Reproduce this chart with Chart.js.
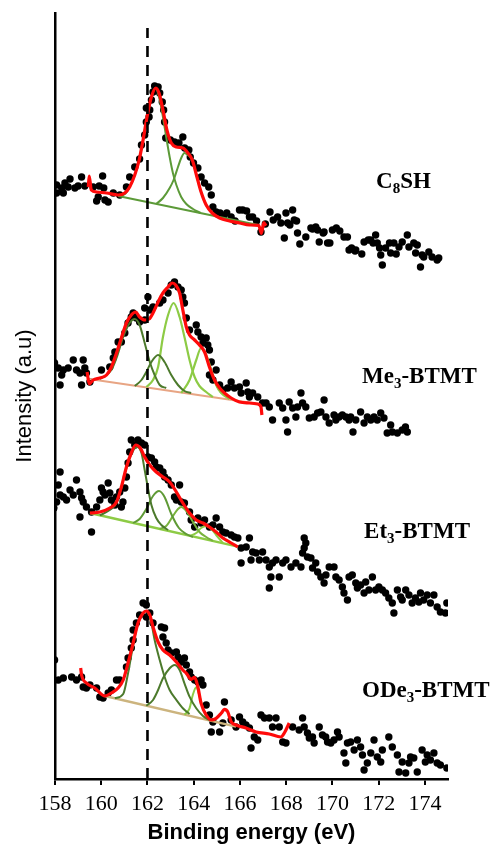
<!DOCTYPE html>
<html><head><meta charset="utf-8">
<script src="https://cdn.jsdelivr.net/npm/chart.js@4.4.1/dist/chart.umd.min.js"></script>
<style>html,body{margin:0;padding:0;background:#fff}#wrap{width:496px;height:846px}</style>
</head><body><div id="wrap"><canvas id="c" width="496" height="846"></canvas></div>
<script>
// ---------- axis ----------
const xTickValues = [158,160,162,164,166,168,170,172,174];
const xRange = [158,175];
const yRange = [0,766];
const refLine = [[162,0],[162,751]];

// ---------- C8SH ----------
const c8shDots = [[158.07,594],[158.07,586],[158.29,591],[158.36,586],[158.43,596],[158.57,592],[158.65,600],[158.86,591],[159.00,593],[159.15,602],[159.29,593],[159.65,592],[159.80,578],[159.87,582],[159.91,593],[160.06,603],[160.11,591],[160.16,579],[160.30,577],[160.52,586],[160.80,584],[161.09,592],[161.23,602],[161.45,612],[161.66,620],[161.74,634],[161.88,644],[161.95,657],[161.95,671],[162.07,662],[162.10,669],[162.17,679],[162.24,687],[162.31,693],[162.46,692],[162.53,686],[162.64,677],[162.70,669],[162.74,657],[162.79,641],[162.99,639],[163.17,637],[163.36,636],[163.53,642],[163.61,631],[163.79,629],[163.85,622],[163.99,616],[164.18,611],[164.32,602],[164.47,596],[164.65,592],[164.76,584],[164.83,572],[164.97,567],[165.14,566],[165.29,563],[165.43,566],[165.62,562],[165.79,558],[165.98,569],[166.12,569],[166.29,568],[166.41,562],[166.55,562],[166.72,558],[166.91,547],[167.10,555],[167.30,567],[167.44,559],[167.63,562],[167.77,556],[167.92,541],[167.99,566],[168.06,556],[168.16,554],[168.28,569],[168.35,559],[168.45,558],[168.49,546],[168.59,535],[168.85,542],[169.07,551],[169.14,550],[169.28,552],[169.36,549],[169.43,537],[169.60,546],[169.64,547],[169.79,536],[169.89,536],[170.00,549],[170.17,551],[170.32,548],[170.50,542],[170.65,542],[170.72,529],[170.83,531],[170.98,528],[171.01,529],[171.27,525],[171.37,537],[171.55,539],[171.65,539],[171.76,536],[171.87,544],[171.94,536],[172.04,531],[172.09,524],[172.16,514],[172.30,531],[172.47,536],[172.52,526],[172.66,536],[172.76,525],[172.88,532],[173.02,537],[173.24,544],[173.31,532],[173.52,536],[173.60,526],[173.67,534],[173.81,512],[173.88,524],[173.95,522],[174.17,527],[174.31,522],[174.53,519],[174.60,521]];
const c8shFit = [[159.44,592],[159.48,603],[159.57,589],[159.80,587],[160.23,586],[160.73,584],[161.02,586],[161.23,592],[161.45,604],[161.64,619],[161.81,639],[161.98,662],[162.17,682],[162.36,691],[162.50,686],[162.67,669],[162.84,649],[163.03,636],[163.25,632],[163.53,631],[163.75,626],[163.94,619],[164.14,602],[164.32,587],[164.54,574],[164.80,566],[165.12,561],[165.55,558],[165.98,556],[166.41,554],[166.81,553.7],[166.93,545.7],[167.03,556.3],[167.13,553.3]];
const c8shPeak1 = [[160.73,583],[161.0,584.5],[161.23,592],[161.45,604],[161.64,619],[161.81,639],[161.98,662],[162.17,682],[162.36,691],[162.53,679],[162.67,662],[162.81,642],[162.96,622],[163.10,606],[163.25,594],[163.46,582],[163.68,575],[163.97,570],[164.30,566]];
const c8shPeak2 = [[162.38,575],[162.67,581],[162.96,591],[163.13,599],[163.32,612],[163.46,621],[163.60,626],[163.75,624],[163.94,619],[164.14,602],[164.32,587],[164.54,574],[164.80,566],[165.12,561]];
const c8shBase = [[160.73,583],[166.84,553.7]];

// ---------- Me3-BTMT ----------
const me3Dots = [[157.95,422],[157.98,416],[158.14,411],[158.22,394],[158.29,404],[158.36,409],[158.57,411],[158.79,419],[158.93,409],[159.08,406],[159.15,394],[159.22,419],[159.29,411],[159.36,406],[159.51,397],[160.01,409],[160.37,412],[160.52,421],[160.59,427],[160.73,437],[160.87,437],[161.02,446],[161.16,456],[161.30,462],[161.38,466],[161.52,461],[161.66,457],[161.88,459],[161.88,471],[162.02,482],[162.10,469],[162.24,472],[162.53,476],[162.67,479],[162.89,486],[163.03,494],[163.17,497],[163.32,492],[163.46,489],[163.53,482],[163.60,476],[163.68,461],[163.82,449],[164.11,454],[164.18,447],[164.32,442],[164.40,436],[164.54,441],[164.61,434],[164.68,429],[164.68,404],[164.76,417],[164.83,399],[164.97,409],[165.12,394],[165.26,389],[165.47,391],[165.62,397],[165.76,391],[165.98,392],[166.05,386],[166.27,396],[166.34,387],[166.41,382],[166.55,386],[166.77,382],[166.98,376],[167.13,376],[167.27,372],[167.41,359],[167.70,376],[167.85,371],[167.99,359],[168.06,347],[168.13,377],[168.28,371],[168.42,362],[168.49,372],[168.64,386],[168.71,376],[168.85,372],[169.00,361],[169.21,362],[169.36,366],[169.50,367],[169.64,379],[169.72,362],[169.86,356],[170.07,364],[170.15,359],[170.29,362],[170.43,364],[170.58,362],[170.72,359],[170.79,362],[170.89,347],[171.01,359],[171.22,367],[171.37,356],[171.51,362],[171.66,359],[171.80,362],[171.94,359],[172.09,366],[172.23,361],[172.37,346],[172.52,354],[172.59,347],[172.81,346],[173.02,349],[173.16,352],[173.24,347]];
const me3Fit = [[159.39,407],[159.48,395],[159.65,399],[159.94,401],[160.23,404],[160.44,412],[160.66,426],[160.87,441],[161.09,456],[161.30,464],[161.49,467],[161.66,462],[161.88,459],[162.07,460],[162.24,466],[162.46,477],[162.67,486],[162.89,492],[163.07,496],[163.22,494],[163.39,486],[163.53,469],[163.68,452],[163.82,444],[164.04,439],[164.25,434],[164.47,427],[164.68,412],[164.90,399],[165.12,391],[165.33,386],[165.62,381],[165.98,377],[166.41,376],[166.77,375],[166.91,372],[166.95,364]];
const me3Peak1 = [[159.94,400],[160.44,409],[160.66,421],[160.95,442],[161.23,456],[161.45,460],[161.66,454],[161.88,436],[162.10,417],[162.31,404],[162.53,394],[162.81,391]];
const me3Peak2 = [[161.45,393],[161.74,399],[161.95,407],[162.17,417],[162.46,424],[162.74,417],[163.03,404],[163.32,394],[163.60,388],[163.89,386]];
const me3Peak3 = [[161.95,392],[162.24,399],[162.46,412],[162.67,442],[162.89,464],[163.13,476],[163.39,462],[163.61,441],[163.82,419],[164.04,402],[164.25,393],[164.54,387],[164.83,382]];
const me3Peak4 = [[163.46,386],[163.82,399],[164.11,419],[164.32,431],[164.54,424],[164.76,409],[164.97,394],[165.19,386],[165.55,380]];
const me3Base = [[159.48,400],[166.84,375]];

// ---------- Et3-BTMT ----------
const et3Dots = [[157.95,271],[158.07,277],[158.14,294],[158.22,307],[158.22,284],[158.36,282],[158.50,279],[158.65,289],[158.79,284],[158.93,299],[159.08,287],[159.08,262],[159.15,281],[159.22,277],[159.36,272],[159.58,267],[159.58,247],[159.80,272],[159.94,279],[160.01,291],[160.08,287],[160.16,284],[160.30,296],[160.37,286],[160.44,279],[160.59,274],[160.66,282],[160.80,287],[160.87,272],[160.94,277],[161.02,291],[161.09,302],[161.16,316],[161.23,327],[161.30,339],[161.45,334],[161.59,339],[161.74,336],[161.88,334],[162.02,322],[162.17,321],[162.31,317],[162.38,312],[162.53,311],[162.67,307],[162.74,302],[162.89,299],[163.03,294],[163.17,282],[163.25,279],[163.39,294],[163.46,277],[163.60,276],[163.82,267],[163.89,259],[164.04,252],[164.18,261],[164.32,256],[164.47,259],[164.68,252],[164.83,254],[164.97,261],[165.12,252],[165.26,247],[165.40,246],[165.62,244],[165.76,242],[165.91,241],[166.05,231],[166.05,216],[166.27,232],[166.41,241],[166.48,219],[166.55,227],[166.70,226],[166.84,219],[166.98,227],[167.13,219],[167.27,212],[167.27,191],[167.34,202],[167.41,216],[167.56,219],[167.70,202],[167.85,216],[167.99,219],[168.21,212],[168.42,216],[168.64,212],[168.71,226],[168.78,231],[168.78,241],[168.85,236],[168.92,222],[169.07,221],[169.14,211],[169.28,216],[169.36,207],[169.50,202],[169.64,196],[169.72,204],[169.86,212],[170.07,212],[170.15,202],[170.29,199],[170.43,192],[170.50,186],[170.65,179],[170.72,202],[170.86,204],[171.01,196],[171.08,191],[171.22,194],[171.37,186],[171.44,197],[171.58,189],[171.73,202],[171.87,189],[172.01,192],[172.16,189],[172.30,186],[172.44,181],[172.59,176],[172.66,166],[172.81,189],[172.95,182],[173.02,179],[173.17,189],[173.31,184],[173.45,176],[173.59,181],[173.74,177],[173.81,186],[173.95,179],[174.10,184],[174.24,176],[174.39,184],[174.53,172],[174.67,167],[174.89,166],[174.95,176]];
const et3Fit = [[159.51,266],[159.94,267],[160.37,271],[160.66,277],[160.87,292],[161.09,312],[161.30,326],[161.49,334],[161.69,331],[161.88,322],[162.10,314],[162.38,307],[162.67,302],[162.96,297],[163.25,287],[163.53,276],[163.82,266],[164.11,259],[164.40,256],[164.68,252],[164.97,247],[165.26,241],[165.62,236],[165.91,232]];
const et3Peak1 = [[159.94,263.7],[160.37,269],[160.66,276],[160.87,291],[161.09,311],[161.30,325],[161.55,332],[161.74,326],[161.88,309],[162.02,291],[162.17,274],[162.38,261],[162.60,254],[162.89,249]];
const et3Peak2 = [[161.38,256],[161.66,260],[161.95,270],[162.24,283],[162.50,288],[162.74,282],[163.03,265],[163.36,251],[163.68,245],[163.97,242]];
const et3Peak3 = [[162.53,250],[162.81,253],[163.10,263],[163.32,270],[163.46,272],[163.68,268],[163.97,257],[164.25,247],[164.54,242],[164.83,238]];
const et3Peak4 = [[163.82,243],[164.11,246],[164.32,251],[164.54,253],[164.76,250],[164.97,244],[165.26,236]];
const et3Base = [[159.51,266],[165.91,232.3]];

// ---------- ODe3-BTMT ----------
const ode3Dots = [[157.95,102],[157.98,119],[158.14,99],[158.36,101],[158.72,102],[158.93,99],[159.15,102],[159.22,92],[159.36,91],[159.51,94],[159.80,91],[159.94,82],[160.08,81],[160.30,86],[160.44,89],[160.66,99],[160.80,99],[161.09,112],[161.16,121],[161.30,131],[161.38,139],[161.38,149],[161.52,156],[161.66,164],[161.81,176],[161.95,174],[161.95,162],[162.10,166],[162.24,156],[162.60,152],[162.67,142],[162.74,151],[162.81,136],[162.89,129],[163.03,126],[163.25,127],[163.32,122],[163.46,117],[163.60,121],[163.68,114],[163.82,107],[163.89,102],[164.04,99],[164.18,97],[164.32,99],[164.40,94],[164.54,74],[164.68,64],[164.76,47],[164.83,57],[165.12,47],[165.26,56],[165.33,77],[165.62,59],[165.83,52],[165.98,62],[166.12,57],[166.26,54],[166.41,51],[166.48,31],[166.62,42],[166.77,39],[166.91,64],[167.06,61],[167.27,61],[167.41,52],[167.56,61],[167.70,52],[167.85,37],[167.99,36],[168.28,52],[168.56,49],[168.71,61],[168.78,52],[168.92,46],[169.00,41],[169.14,42],[169.21,36],[169.43,52],[169.57,44],[169.71,42],[169.79,37],[169.93,36],[170.07,39],[170.22,47],[170.29,42],[170.50,26],[170.58,16],[170.65,36],[170.79,37],[170.94,29],[171.08,39],[171.22,32],[171.30,24],[171.37,9],[171.51,16],[171.66,26],[171.80,39],[171.94,22],[172.09,17],[172.16,29],[172.44,42],[172.59,32],[172.81,24],[172.88,7],[173.02,17],[173.17,6],[173.31,16],[173.38,22],[173.52,21],[173.67,7],[173.88,29],[174.02,17],[174.10,24],[174.24,19],[174.39,26],[174.53,16],[174.67,14],[174.95,11]];
const ode3Fit = [[159.11,111],[159.15,104],[159.36,96],[159.72,91],[160.16,83],[160.44,86],[160.73,91],[160.95,99],[161.16,116],[161.38,136],[161.59,156],[161.81,166],[161.95,168],[162.10,164],[162.24,152],[162.46,137],[162.67,129],[162.96,124],[163.25,117],[163.53,109],[163.68,105.7],[163.89,99.7],[164.04,101.7],[164.18,92],[164.32,75.7],[164.54,64],[164.76,59],[164.97,60.7],[165.19,65.7],[165.33,69.7],[165.47,67.3],[165.62,57.3],[165.83,54],[166.26,51],[166.70,47],[167.27,45],[167.77,42],[167.92,46],[168.13,56]];
const ode3Peak1 = [[160.59,80.7],[160.95,85],[161.16,105.7],[161.38,134],[161.59,155.7],[161.81,165.7],[161.95,168.3],[162.17,155.7],[162.31,139],[162.53,119],[162.74,102.3],[162.96,89],[163.25,79],[163.53,70.7],[163.82,65]];
const ode3Peak2 = [[161.95,73.3],[162.24,79],[162.46,89],[162.67,100.7],[162.96,110.7],[163.17,114],[163.39,109],[163.60,95.7],[163.82,82.3],[164.11,70.7],[164.40,63],[164.68,59]];
const ode3Peak3 = [[163.60,64.3],[163.82,70.7],[163.96,84],[164.11,91.7],[164.25,83],[164.40,70.7],[164.61,60.7],[164.83,58]];
const ode3Base = [[160.16,83],[165.83,52.3]];

// ---------- text ----------
const sampleLabels = [
  {parts:['C','8','SH'], at:[171.89,597]},
  {parts:['Me','3','-BTMT'], at:[171.28,402]},
  {parts:['Et','3','-BTMT'], at:[171.37,247]},
  {parts:['ODe','3','-BTMT'], at:[171.28,88]}
];
const xTitle = 'Binding energy (eV)';
const yTitle = 'Intensity (a.u)';

// ---------- styles ----------
const RED='#ff0a0a', DARK='#4c7a2c', MID='#5f9a36', LIGHT='#8dcb45', C8G='#5c9a38';
const pts = a => a.map(([x,y])=>({x,y}));
const dots = a => ({data:pts(a), showLine:false, pointRadius:3.7, pointBackgroundColor:'#000', pointBorderWidth:0, order:10});
const curve = (a,color,w,order) => ({data:pts(a), showLine:true, borderColor:color, borderWidth:w, pointRadius:0, fill:false, cubicInterpolationMode:'monotone', order:order});

const datasets = [
  {data:pts(refLine), showLine:true, borderColor:'#000', borderWidth:2.6, borderDash:[11,8], pointRadius:0, order:1},
  curve(c8shFit,RED,3.2,2), curve(c8shPeak1,C8G,2,3), curve(c8shPeak2,C8G,2,3), curve(c8shBase,C8G,2,4),
  curve(me3Fit,RED,3.2,2), curve(me3Peak1,DARK,2,3), curve(me3Peak2,DARK,2,3), curve(me3Peak3,LIGHT,2.2,3), curve(me3Peak4,LIGHT,2.2,3), curve(me3Base,'#e8a584',2.2,4),
  curve(et3Fit,RED,3.2,2), curve(et3Peak1,DARK,2,3), curve(et3Peak2,MID,2,3), curve(et3Peak3,'#78b23c',2,3), curve(et3Peak4,LIGHT,2,3), curve(et3Base,LIGHT,2.4,4),
  curve(ode3Fit,RED,3.2,2), curve(ode3Peak1,DARK,2,3), curve(ode3Peak2,DARK,2,3), curve(ode3Peak3,LIGHT,2,3), curve(ode3Base,'#ccb47e',2.4,4),
  dots(c8shDots), dots(me3Dots), dots(et3Dots), dots(ode3Dots)
];

const labelPlugin = {
  id:'sampleLabels',
  afterDatasetsDraw(chart){
    const {ctx, scales:{x,y}} = chart;
    ctx.save();
    ctx.fillStyle='#000';
    ctx.textBaseline='middle';
    ctx.textAlign='left';
    sampleLabels.forEach(l=>{
      let px = x.getPixelForValue(l.at[0]);
      const py = y.getPixelForValue(l.at[1]);
      ctx.font='bold 23px "Liberation Serif"';
      ctx.fillText(l.parts[0],px,py); px += ctx.measureText(l.parts[0]).width;
      ctx.font='bold 15px "Liberation Serif"';
      ctx.fillText(l.parts[1],px,py+7); px += ctx.measureText(l.parts[1]).width;
      ctx.font='bold 23px "Liberation Serif"';
      ctx.fillText(l.parts[2],px,py);
    });
    ctx.restore();
  }
};

new Chart(document.getElementById('c'), {
  type:'scatter',
  data:{datasets},
  options:{
    responsive:false, animation:false,
    layout:{padding:{top:13,right:48,left:0,bottom:0}},
    plugins:{legend:{display:false}, tooltip:{enabled:false}},
    scales:{
      x:{type:'linear', min:xRange[0], max:xRange[1],
         afterBuildTicks: s => { s.ticks = xTickValues.map(v=>({value:v})); },
         afterFit: s => { s.height = 67; },
         grid:{display:true, drawOnChartArea:false, drawTicks:true, tickLength:6, color:'#000', lineWidth:2},
         border:{display:true, color:'#000', width:2.5},
         ticks:{color:'#000', padding:6, maxRotation:0, autoSkip:false, font:{family:'Liberation Serif', size:22}},
         title:{display:true, text:xTitle, color:'#000', padding:{top:0,bottom:0}, font:{family:'Liberation Sans', size:22, weight:'bold'}}
      },
      y:{type:'linear', min:yRange[0], max:yRange[1],
         afterFit: s => { s.width = 55; },
         grid:{display:false},
         border:{display:true, color:'#000', width:2.5},
         ticks:{display:false},
         title:{display:true, text:yTitle, color:'#000', padding:{top:12,bottom:0}, font:{family:'Liberation Sans', size:22}}
      }
    }
  },
  plugins:[labelPlugin]
});
</script></body></html>
